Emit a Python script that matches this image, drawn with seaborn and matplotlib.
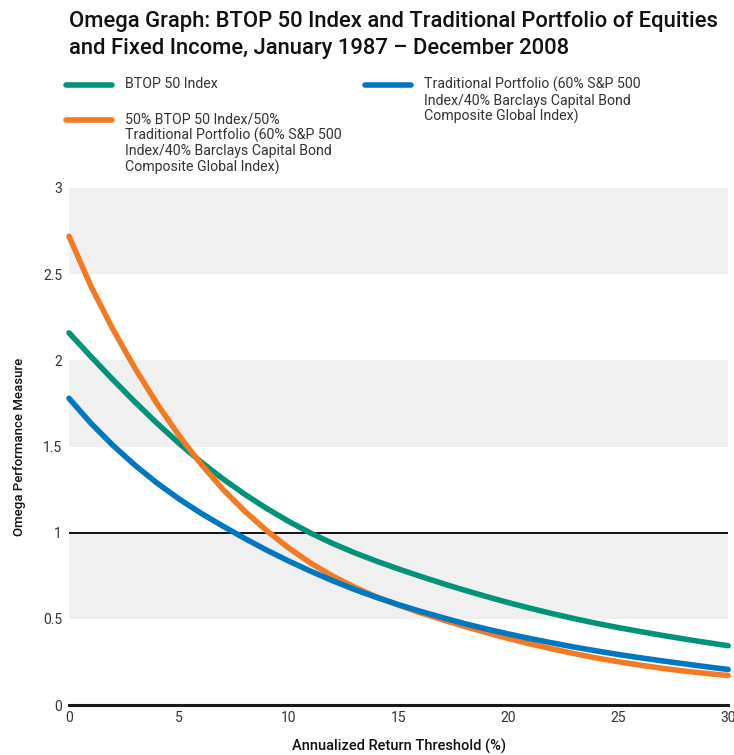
import numpy as np
import pandas as pd
import matplotlib
matplotlib.use("Agg")
import matplotlib.pyplot as plt
from matplotlib.lines import Line2D
import seaborn as sns

# values
thresholds = list(range(0, 31))
btop50 = [2.16, 2.022, 1.888, 1.759, 1.636, 1.52, 1.412, 1.313, 1.223, 1.141, 1.066,
          0.998, 0.938, 0.884, 0.835, 0.790, 0.747, 0.706, 0.667, 0.630, 0.595,
          0.562, 0.531, 0.502, 0.475, 0.450, 0.427, 0.405, 0.384, 0.364, 0.345]
blend = [2.72, 2.43, 2.18, 1.955, 1.75, 1.565, 1.40, 1.253, 1.125, 1.012, 0.912,
         0.824, 0.749, 0.684, 0.628, 0.58, 0.536, 0.495, 0.457, 0.421, 0.387,
         0.355, 0.326, 0.299, 0.274, 0.252, 0.232, 0.214, 0.198, 0.184, 0.172]
traditional = [1.78, 1.635, 1.507, 1.392, 1.289, 1.197, 1.114, 1.039, 0.967, 0.899, 0.836,
               0.777, 0.722, 0.671, 0.625, 0.583, 0.544, 0.508, 0.473, 0.442, 0.413,
               0.386, 0.361, 0.337, 0.315, 0.294, 0.275, 0.257, 0.24, 0.223, 0.207]

series_names = ["BTOP 50 Index",
                "50% BTOP 50 Index/50%\nTraditional Portfolio (60% S&P 500\nIndex/40% Barclays Capital Bond\nComposite Global Index)",
                "Traditional Portfolio (60% S&P 500\nIndex/40% Barclays Capital Bond\nComposite Global Index)"]
colors = ["#00937a", "#f47a22", "#0077c1"]

title = "Omega Graph: BTOP 50 Index and Traditional Portfolio of Equities\nand Fixed Income, January 1987 \u2013 December 2008"
x_ticks = [0, 5, 10, 15, 20, 25, 30]
y_ticks = [0, 0.5, 1, 1.5, 2, 2.5, 3]
y_tick_labels = ["0", "0.5", "1", "1.5", "2", "2.5", "3"]
bands = [(0.5, 1), (1.5, 2), (2.5, 3)]

df = pd.DataFrame({
    "threshold": thresholds * 3,
    "omega": btop50 + blend + traditional,
    "series": [series_names[0]] * 31 + [series_names[1]] * 31 + [series_names[2]] * 31,
})

sns.set_theme(style="white")
plt.rcParams["font.family"] = ["Roboto", "DejaVu Sans"]

fig = plt.figure(figsize=(7.34, 7.55), dpi=100)
ax = fig.add_axes([0.094, 0.066, 0.898, 0.685])

for lo, hi in bands:
    ax.axhspan(lo, hi, color="#f0f0f0", lw=0, zorder=0)
ax.axhline(1, color="#111111", lw=1.4, zorder=1)

sns.lineplot(data=df, x="threshold", y="omega", hue="series", palette=colors,
             hue_order=series_names, lw=4, ax=ax, legend=False, zorder=3,
             solid_capstyle="round", clip_on=False)

ax.set_xlim(0, 30)
ax.set_ylim(0, 3)
ax.set_xticks(x_ticks)
ax.set_yticks(y_ticks)
ax.set_yticklabels(y_tick_labels)
for s in ["top", "right", "left"]:
    ax.spines[s].set_visible(False)
ax.spines["bottom"].set_linewidth(2.2)
ax.spines["bottom"].set_color("#1a1a1a")
ax.tick_params(axis="x", direction="in", length=5, width=1.3, color="#1a1a1a",
               labelsize=10, labelcolor="#333333", pad=4)
ax.tick_params(axis="y", length=0, labelsize=10, labelcolor="#333333", pad=5)
ticks = ax.xaxis.get_major_ticks()
ticks[0].tick1line.set_visible(False)
ticks[-1].tick1line.set_visible(False)
ax.set_xlabel("Annualized Return Threshold (%)", fontsize=10.5, fontweight="medium",
              color="#111111", labelpad=10)
ax.set_ylabel("Omega Performance Measure", fontsize=9.5, fontweight="medium",
              color="#111111", labelpad=12)

fig.text(0.094, 0.985, title, fontsize=15.8, fontweight="medium", color="#111111",
         va="top", ha="left", linespacing=1.35)

# legend drawn by hand in figure coordinates
W, H = 734.0, 755.0
entries = [(66, 85, series_names[0], colors[0]),
           (66, 120, series_names[1], colors[1]),
           (365, 85, series_names[2], colors[2])]
for x0, y0, label, c in entries:
    fig.add_artist(Line2D([x0 / W, (x0 + 46) / W], [1 - y0 / H, 1 - y0 / H],
                          color=c, lw=4, solid_capstyle="round"))
    fig.text((x0 + 59) / W, 1 - (y0 - 8) / H, label, fontsize=10.2, color="#333333",
             va="top", ha="left", linespacing=1.12)

fig.savefig("out.png", dpi=100)
